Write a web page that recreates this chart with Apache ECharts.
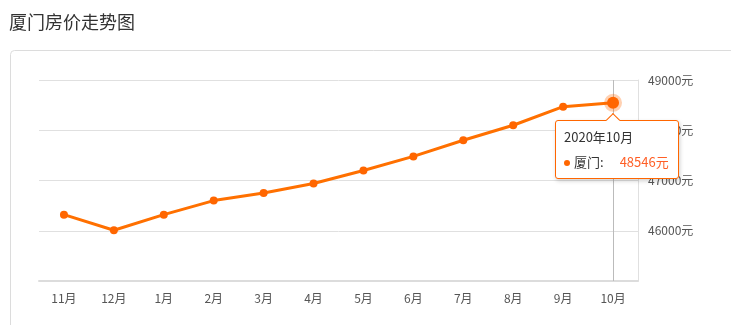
<!DOCTYPE html>
<html>
<head>
<meta charset="utf-8">
<script src="https://cdn.jsdelivr.net/npm/echarts@6/dist/echarts.min.js"></script>
<style>
html,body{margin:0;padding:0;background:#fff;}
#c{width:731px;height:325px;}
</style>
</head>
<body>
<div id="c"></div>
<script>
var categories = ['11月','12月','1月','2月','3月','4月','5月','6月','7月','8月','9月','10月'];
var years = ['2019','2019','2020','2020','2020','2020','2020','2020','2020','2020','2020','2020'];
var prices = [46320, 46010, 46320, 46600, 46750, 46940, 47200, 47480, 47800, 48100, 48470, 48546];
var yTicks = {min: 45000, max: 49000, interval: 1000};
var cityName = '厦门';

var FONT = '"Noto Sans CJK SC", "Microsoft YaHei", sans-serif';
var chart = echarts.init(document.getElementById('c'), null, {renderer: 'canvas'});

chart.setOption({
  animation: false,
  title: {
    text: '厦门房价走势图',
    left: 4, top: 8,
    textStyle: {fontSize: 18, fontWeight: 'normal', color: '#333', fontFamily: FONT}
  },
  graphic: [{
    type: 'rect', silent: true, z: -1,
    shape: {x: 10.5, y: 50.5, width: 740, height: 300, r: 4},
    style: {fill: 'none', stroke: '#dcdcdc', lineWidth: 1}
  }],
  grid: {left: 39, right: 93, top: 80, bottom: 44, containLabel: false},
  tooltip: {
    trigger: 'axis',
    alwaysShowContent: true,
    transitionDuration: 0,
    backgroundColor: '#fff',
    borderColor: '#ff6600',
    borderWidth: 1,
    padding: [6, 9, 6, 8],
    extraCssText: 'border-radius:3px; box-shadow:1px 2px 4px rgba(0,0,0,0.18); overflow:visible;',
    axisPointer: {type: 'line', z: 1, lineStyle: {color: '#bbb', width: 1, type: 'solid'}},
    position: function (point, params, dom, rect, size) {
      var idx = params[0].dataIndex;
      var px = chart.convertToPixel({seriesIndex: 0}, [idx, prices[idx]]);
      return [px[0] - 58, px[1] + 17];
    },
    formatter: function (params) {
      var p = params[0];
      var i = p.dataIndex;
      var ff = FONT.replace(/"/g, "'");
      return '<div style="position:absolute;left:52px;top:-6px;width:9px;height:9px;background:#fff;border-top:1px solid #ff6600;border-left:1px solid #ff6600;transform:rotate(45deg);"></div>' +
        '<div style="font-family:' + ff + ';font-size:13px;color:#333;line-height:20px;">' + years[i] + '年' + p.name + '</div>' +
        '<div style="font-family:' + ff + ';font-size:13px;color:#333;line-height:20px;margin-top:5px;">' +
        '<span style="display:inline-block;width:6px;height:6px;border-radius:3px;background:#ff6600;margin-right:4px;vertical-align:middle;"></span>' +
        cityName + ':<span style="color:#ff5f26;margin-left:16px;">' + p.value + '元</span></div>';
    }
  },
  xAxis: {
    type: 'category',
    data: categories,
    boundaryGap: true,
    axisLine: {lineStyle: {color: '#dcdcdc', width: 2}},
    axisTick: {alignWithLabel: true, length: 4, lineStyle: {color: '#dcdcdc'}},
    axisLabel: {color: '#555', fontSize: 12, margin: 11, interval: 0, fontFamily: FONT}
  },
  yAxis: {
    type: 'value',
    position: 'right',
    min: yTicks.min, max: yTicks.max, interval: yTicks.interval,
    axisLine: {show: true, lineStyle: {color: '#e0e0e0', width: 1}},
    axisTick: {show: false},
    splitLine: {lineStyle: {color: '#e0e0e0'}},
    axisLabel: {
      color: '#555', fontSize: 12, margin: 10, showMinLabel: false, fontFamily: FONT,
      formatter: function (v) { return String(v) + '元'; }
    }
  },
  series: [{
    name: cityName,
    type: 'line',
    z: 3,
    data: prices,
    symbol: 'circle',
    symbolSize: 8,
    lineStyle: {color: '#ff6600', width: 3},
    itemStyle: {color: '#ff6600'},
    emphasis: {
      scale: 1.5,
      itemStyle: {color: '#ff6600', borderColor: 'rgba(255,102,0,0.3)', borderWidth: 6},
      lineStyle: {width: 3}
    }
  }]
});

chart.dispatchAction({type: 'showTip', seriesIndex: 0, dataIndex: prices.length - 1});
</script>
</body>
</html>
